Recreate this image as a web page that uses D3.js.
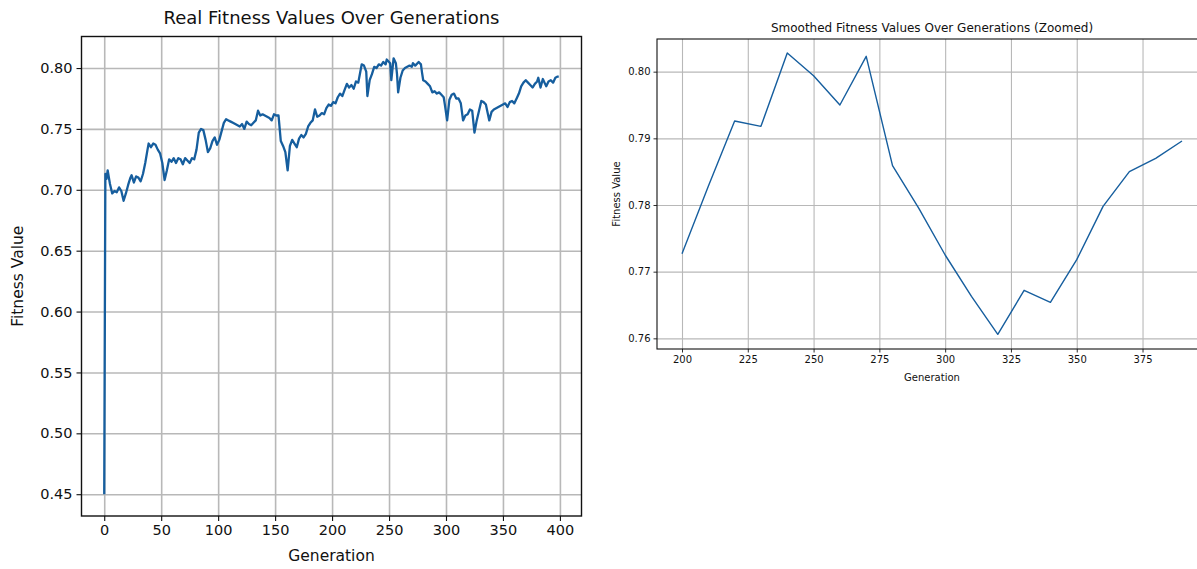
<!DOCTYPE html>
<html>
<head>
<meta charset="utf-8">
<script src="https://cdn.jsdelivr.net/npm/d3@7"></script>
<style>
body{margin:0;background:#fff}
svg{font-family:"DejaVu Sans",sans-serif}
.grid line{stroke:#b8b8b8}
.grid path{display:none}
</style>
</head>
<body>
<svg id="fig" width="1197" height="569"></svg>
<script>
// real fitness trace (generation, value)
var realGen=[0,1,2,3,5,7,9,11,13,15,17,19,21,23,24,26,28,30,32,34,36,38,39,41,43,45,47,49,51,53,55,57,59,61,63,65,67,69,71,73,75,77,79,81,83,85,87,89,91,93,95,97,99,101,103,105,107,109,111,113,115,117,119,121,123,125,127,129,131,133,135,137,139,141,143,145,147,149,151,153,155,157,159,161,163,165,167,169,171,173,175,177,179,181,183,185,187,189,191,193,195,197,199,201,203,205,207,209,211,213,215,217,219,221,223,225,226,228,230,231,233,235,237,239,241,243,245,247,248,250,251,252,254,256,257,258,260,262,264,266,268,270,271,273,276,278,279,280,282,284,286,288,290,292,294,296,298,299,301,303,305,307,309,311,313,315,317,319,321,323,325,327,329,331,333,335,338,340,342,344,346,348,350,352,354,356,358,360,362,364,366,368,370,372,374,376,378,380,381,383,385,387,388,390,392,394,396,398,399]
var realVal=[0.450,0.713,0.709,0.716,0.705,0.697,0.699,0.698,0.702,0.699,0.691,0.697,0.704,0.710,0.712,0.706,0.711,0.710,0.707,0.713,0.722,0.733,0.738,0.735,0.738,0.737,0.733,0.730,0.722,0.708,0.716,0.725,0.723,0.726,0.722,0.726,0.725,0.721,0.726,0.724,0.722,0.726,0.725,0.733,0.747,0.750,0.749,0.741,0.731,0.734,0.740,0.743,0.737,0.741,0.748,0.755,0.758,0.757,0.756,0.755,0.754,0.753,0.752,0.754,0.750,0.756,0.754,0.753,0.755,0.757,0.765,0.761,0.762,0.761,0.760,0.759,0.757,0.762,0.761,0.761,0.740,0.736,0.731,0.716,0.736,0.741,0.738,0.735,0.742,0.745,0.743,0.746,0.752,0.755,0.757,0.766,0.760,0.761,0.763,0.762,0.767,0.770,0.769,0.772,0.771,0.776,0.779,0.777,0.782,0.787,0.784,0.786,0.783,0.789,0.788,0.798,0.803,0.802,0.797,0.777,0.790,0.795,0.801,0.800,0.803,0.802,0.805,0.803,0.807,0.805,0.804,0.790,0.808,0.804,0.795,0.780,0.792,0.798,0.800,0.801,0.802,0.801,0.804,0.802,0.805,0.803,0.796,0.790,0.789,0.787,0.785,0.780,0.781,0.779,0.780,0.778,0.776,0.770,0.757,0.774,0.778,0.779,0.775,0.775,0.771,0.757,0.761,0.762,0.766,0.765,0.747,0.757,0.765,0.773,0.772,0.770,0.757,0.764,0.766,0.767,0.768,0.769,0.770,0.771,0.768,0.772,0.773,0.771,0.775,0.779,0.785,0.788,0.790,0.788,0.786,0.784,0.787,0.789,0.792,0.784,0.791,0.787,0.785,0.789,0.790,0.788,0.792,0.793,0.793]

// smoothed values, every 10 generations (right panel)
var smoothGen=[200,210,220,230,240,250,260,270,280,290,300,310,320,330,340,350,360,370,380,390]
var smoothVal=[0.7727,0.7828,0.7926,0.7918,0.8028,0.7994,0.7950,0.8023,0.7859,0.7795,0.7725,0.7663,0.7606,0.7672,0.7654,0.7718,0.7798,0.7850,0.7870,0.7896]

var leftXTicks=[0,50,100,150,200,250,300,350,400]
var leftYTicks=[0.45,0.50,0.55,0.60,0.65,0.70,0.75,0.80]
var rightXTicks=[200,225,250,275,300,325,350,375]
var rightYTicks=[0.76,0.77,0.78,0.79,0.80]

var lineColor='#165e9e'
var svg=d3.select('#fig')

function Panel(opt){
    var x=d3.scaleLinear().domain(opt.xdom).range([opt.left,opt.right])
    var y=d3.scaleLinear().domain(opt.ydom).range([opt.bottom,opt.top])
    var g=svg.append('g')
    var w=opt.right-opt.left, h=opt.bottom-opt.top

    // clip so the right panel gets cut at the page edge like the original
    g.append('g').attr('class','grid')
	.attr('transform','translate(0,'+opt.bottom+')')
	.call(d3.axisBottom(x).tickValues(opt.xticks).tickSize(-h).tickFormat(''))
	.selectAll('line').style('stroke-width',opt.gridw)
    g.append('g').attr('class','grid')
	.attr('transform','translate('+opt.left+',0)')
	.call(d3.axisLeft(y).tickValues(opt.yticks).tickSize(-w).tickFormat(''))
	.selectAll('line').style('stroke-width',opt.gridw)

    var line=d3.line()
	.x(function(d){return x(d[0])})
	.y(function(d){return y(d[1])})
    g.append('path')
	.datum(opt.gens.map(function(v,i){return [v,opt.vals[i]]}))
	.attr('d',line)
	.attr('fill','none')
	.attr('stroke',lineColor)
	.attr('stroke-width',opt.linew)
	.attr('stroke-linejoin','round')

    g.append('rect')
	.attr('x',opt.left).attr('y',opt.top)
	.attr('width',w).attr('height',h)
	.attr('fill','none').attr('stroke','#111').attr('stroke-width',opt.framew)

    var xa=g.append('g')
	.attr('transform','translate(0,'+opt.bottom+')')
	.call(d3.axisBottom(x).tickValues(opt.xticks).tickSize(opt.tick).tickPadding(opt.pad).tickFormat(d3.format('d')))
    var ya=g.append('g')
	.attr('transform','translate('+opt.left+',0)')
	.call(d3.axisLeft(y).tickValues(opt.yticks).tickSize(opt.tick).tickPadding(opt.pad).tickFormat(d3.format('.2f')))
    ;[xa,ya].forEach(function(a){
	a.select('.domain').remove()
	a.selectAll('line').style('stroke','#111').style('stroke-width',opt.framew*0.8)
	a.selectAll('text').style('font-family','"DejaVu Sans",sans-serif')
	    .style('font-size',opt.tickfs+'px').style('fill','#111')
    })

    svg.append('text')
	.attr('x',(opt.left+opt.right)/2).attr('y',opt.titley)
	.attr('text-anchor','middle').style('font-size',opt.titlefs+'px').style('fill','#111')
	.text(opt.title)
    svg.append('text')
	.attr('x',(opt.left+opt.right)/2).attr('y',opt.xlaby)
	.attr('text-anchor','middle').style('font-size',opt.labfs+'px').style('fill','#111')
	.text('Generation')
    svg.append('text')
	.attr('transform','translate('+opt.ylabx+','+(opt.top+opt.bottom)/2+') rotate(-90)')
	.attr('text-anchor','middle').style('font-size',opt.labfs+'px').style('fill','#111')
	.text('Fitness Value')
}

Panel({xdom:[-19.95,418.95],ydom:[0.4321,0.8259],left:81.5,right:581.5,top:36.5,bottom:516,
       gens:realGen,vals:realVal,xticks:leftXTicks,yticks:leftYTicks,
       linew:2.3,gridw:1.6,framew:1.4,tick:5,pad:4,tickfs:14.5,titlefs:18,labfs:15.5,
       title:'Real Fitness Values Over Generations',titley:24,xlaby:561,ylabx:23})

Panel({xdom:[190.5,399.5],ydom:[0.7584,0.8049],left:657,right:1207,top:39,bottom:349,
       gens:smoothGen,vals:smoothVal,xticks:rightXTicks,yticks:rightYTicks,
       linew:1.4,gridw:1.1,framew:1.1,tick:3.5,pad:3,tickfs:10,titlefs:12,labfs:10,
       title:'Smoothed Fitness Values Over Generations (Zoomed)',titley:32,xlaby:381,ylabx:620})
</script>
</body>
</html>
